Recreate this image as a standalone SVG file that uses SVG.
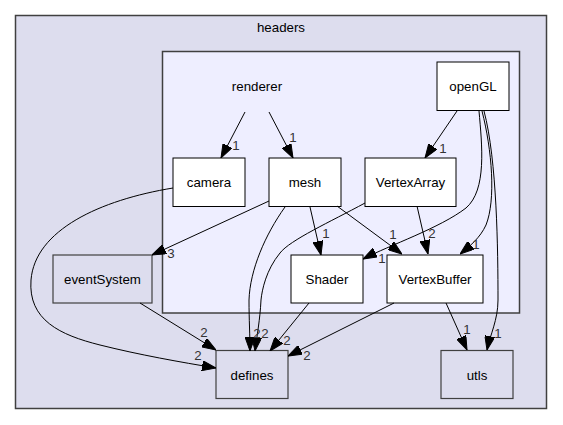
<svg xmlns="http://www.w3.org/2000/svg" width="563" height="425" viewBox="0 0 563 425">
<style>
text{font-family:"Liberation Sans",Arial,sans-serif;font-size:13.3px;text-anchor:middle;fill:#000}
.lbl{font-size:13.3px;fill:#333}
.in rect{fill:#fff;stroke:#000;stroke-width:1}
.out rect{fill:#ddddee;stroke:#404040;stroke-width:1.2}
.e path{fill:none;stroke:#000;stroke-width:1;marker-end:url(#ah)}
</style>
<defs>
<marker id="ah" viewBox="0 0 14 10" refX="14" refY="5" markerWidth="14" markerHeight="10" orient="auto" markerUnits="userSpaceOnUse">
<path d="M0,0 L14,5 L0,10 z" fill="#000" stroke="#000" stroke-width="1"/>
</marker>
</defs>
<rect width="563" height="425" fill="#fff"/>
<g id="cluster_headers">
<rect x="15.5" y="15.5" width="531" height="393" fill="#ddddee" stroke="#404040" stroke-width="1.5"/>
<text x="281" y="32">headers</text>
</g>
<g id="cluster_renderer">
<rect x="162.5" y="51.5" width="357" height="261.5" fill="#eeeeff" stroke="#404040" stroke-width="1.5"/>
<text x="257" y="90.5">renderer</text>
</g>
<g id="node_openGL" class="in"><rect x="437" y="62" width="72" height="48.5"/><text x="473" y="91">openGL</text></g>
<g id="node_camera" class="in"><rect x="173" y="158" width="72" height="48.5"/><text x="209" y="187">camera</text></g>
<g id="node_mesh" class="in"><rect x="269" y="158" width="72" height="48.5"/><text x="305" y="187">mesh</text></g>
<g id="node_VertexArray" class="in"><rect x="365" y="158" width="91" height="48.5"/><text x="410.5" y="187">VertexArray</text></g>
<g id="node_Shader" class="in"><rect x="291" y="255" width="72" height="48"/><text x="327" y="284">Shader</text></g>
<g id="node_VertexBuffer" class="in"><rect x="387" y="255" width="96" height="48"/><text x="435" y="284">VertexBuffer</text></g>
<g id="node_eventSystem" class="out"><rect x="53" y="255" width="99" height="48"/><text x="102.5" y="284">eventSystem</text></g>
<g id="node_defines" class="out"><rect x="216" y="350.5" width="72" height="48"/><text x="252" y="379.5">defines</text></g>
<g id="node_utls" class="out"><rect x="441" y="350.5" width="72" height="48"/><text x="477" y="379.5">utls</text></g>
<g id="edges" class="e">
<path d="M245,112 L221,158"/>
<path d="M269,112 L293,158"/>
<path d="M457,111 L425,158"/>
<path d="M479,111 C482,145 487,190 466,208 C440,228 390,245 363,259"/>
<path d="M482,111 C492,150 496,200 486,225 C480,238 470,246 460,254"/>
<path d="M484,111 C497,160 498,250 498,300 C498,320 490,335 487,350"/>
<path d="M269,201 L152,255"/>
<path d="M310,207 L321,255"/>
<path d="M337,206 L402,254"/>
<path d="M417,206 L428,254"/>
<path d="M285,207 C265,235 250,270 249,300 C249,320 250,335 250,351"/>
<path d="M365,203 C330,222 290,240 280,253 C266,270 262,290 261,300 C260,320 257,335 255,351"/>
<path d="M309,303 L270,351"/>
<path d="M394,303 L288,356"/>
<path d="M140,303 L216,350"/>
<path d="M173,188 C100,200 35,230 31,280 C28,320 60,335 100,345 C140,355 180,362 216,368"/>
<path d="M446,303 L467,350"/>
</g>
<g id="edge_labels" class="lbl">
<text class="lbl" x="236" y="150">1</text>
<text class="lbl" x="293" y="142">1</text>
<text class="lbl" x="443" y="153">1</text>
<text class="lbl" x="382" y="263">1</text>
<text class="lbl" x="476" y="249">1</text>
<text class="lbl" x="498" y="338">1</text>
<text class="lbl" x="171" y="258">3</text>
<text class="lbl" x="326" y="238">1</text>
<text class="lbl" x="393" y="239">1</text>
<text class="lbl" x="432" y="238">2</text>
<text class="lbl" x="257" y="338">2</text>
<text class="lbl" x="265" y="338">2</text>
<text class="lbl" x="287" y="345">2</text>
<text class="lbl" x="307" y="360">2</text>
<text class="lbl" x="204" y="337">2</text>
<text class="lbl" x="198" y="360">2</text>
<text class="lbl" x="467" y="334">1</text>
</g>
</svg>
